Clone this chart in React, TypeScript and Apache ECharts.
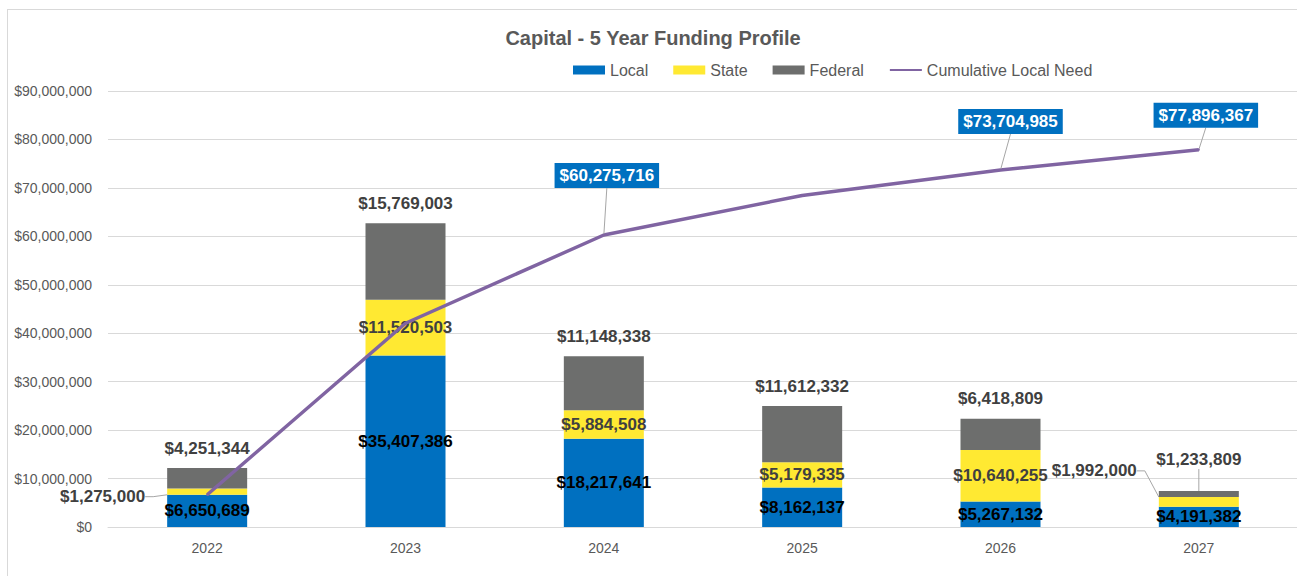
import React, { useEffect, useRef } from "react";
import * as echarts from "echarts";

const years = ["2022", "2023", "2024", "2025", "2026", "2027"];
const local = [6650689, 35407386, 18217641, 8162137, 5267132, 4191382];
const state = [1275000, 11520503, 5884508, 5179335, 10640255, 1992000];
const federal = [4251344, 15769003, 11148338, 11612332, 6418809, 1233809];
const cumulativeLocalNeed = [6650689, 42058075, 60275716, 68437853, 73704985, 77896367];
const cumulativeLabelYears = ["2024", "2026", "2027"];
const stateLabelsOutside = ["2022", "2027"];
const federalLabelsRaised = ["2027"];

const yMin = 0;
const yMax = 90000000;
const yInterval = 10000000;

// label nudges (styling only)
const cumulativeLabelShift: Record<string, [number, number]> = {
  "2024": [3, -41],
  "2026": [10, -30],
  "2027": [7, -16],
};
const stateLabelShift: Record<string, [number, number]> = {
  "2022": [0, 5],
  "2027": [0, -31],
};
const federalLabelShift: Record<string, [number, number]> = {
  "2027": [0, -12],
};

const money = (v: number) => "$" + Math.round(v).toLocaleString("en-US");

const COLORS = {
  local: "#0070C0",
  state: "#FFE932",
  federal: "#6D6E6D",
  line: "#8064A2",
  text: "#595959",
  label: "#404040",
  grid: "#D9D9D9",
  leader: "#A6A6A6",
};

const FONT = "'Liberation Sans', Arial, sans-serif";

export default function App() {
  const ref = useRef<HTMLDivElement>(null);

  useEffect(() => {
    if (!ref.current) return;
    const chart = echarts.init(ref.current, undefined, { renderer: "svg" });

    const barLabelBase = {
      show: true,
      fontFamily: FONT,
      fontWeight: "bold" as const,
      fontSize: 17,
      lineHeight: 20,
    };

    const option: any = {
      animation: false,
      textStyle: { fontFamily: FONT },
      title: {
        text: "Capital - 5 Year Funding Profile",
        left: "center",
        top: 13,
        textStyle: { fontFamily: FONT, fontSize: 20, fontWeight: "bold", color: COLORS.text },
      },
      legend: {
        left: 560,
        top: 47,
        itemWidth: 32,
        itemHeight: 9,
        itemGap: 25,
        textStyle: { fontFamily: FONT, fontSize: 16, color: COLORS.text },
        data: [
          { name: "Local", icon: "rect" },
          { name: "State", icon: "rect" },
          { name: "Federal", icon: "rect" },
          { name: "Cumulative Local Need", itemStyle: { opacity: 0 } },
        ],
      },
      grid: { left: 100, top: 81, width: 1192, height: 436, containLabel: false },
      xAxis: {
        type: "category",
        data: years,
        axisLine: { show: true, lineStyle: { color: COLORS.grid, width: 1 } },
        axisTick: { show: false },
        axisLabel: { color: COLORS.text, fontSize: 14, fontFamily: FONT, margin: 14 },
      },
      yAxis: {
        type: "value",
        min: yMin,
        max: yMax,
        interval: yInterval,
        axisLine: { show: false },
        axisTick: { show: false },
        splitLine: { lineStyle: { color: COLORS.grid, width: 1 } },
        axisLabel: {
          color: COLORS.text,
          fontSize: 14,
          fontFamily: FONT,
          margin: 16,
          formatter: (v: number) => money(v),
        },
      },
      series: [
        {
          name: "Local",
          type: "bar",
          stack: "total",
          barWidth: 80,
          itemStyle: { color: COLORS.local },
          label: { ...barLabelBase, position: "inside", color: "#000000", formatter: (p: any) => money(p.value) },
          data: local,
        },
        {
          name: "State",
          type: "bar",
          stack: "total",
          barWidth: 80,
          itemStyle: { color: COLORS.state },
          label: { ...barLabelBase, position: "inside", color: COLORS.label, formatter: (p: any) => money(p.value) },
          labelLayout: (p: any) => {
            const s = stateLabelShift[years[p.dataIndex]];
            return s ? { dx: s[0], dy: s[1] } : {};
          },
          data: state.map((v, i) =>
            stateLabelsOutside.includes(years[i])
              ? {
                  value: v,
                  label: { position: "left", distance: 22 },
                  labelLine: { show: true, length2: 8, lineStyle: { color: COLORS.leader, width: 1 } },
                }
              : v
          ),
        },
        {
          name: "Federal",
          type: "bar",
          stack: "total",
          barWidth: 80,
          itemStyle: { color: COLORS.federal },
          label: { ...barLabelBase, position: "top", distance: 10, color: COLORS.label, formatter: (p: any) => money(p.value) },
          labelLayout: (p: any) => {
            const s = federalLabelShift[years[p.dataIndex]];
            return s ? { dx: s[0], dy: s[1] } : {};
          },
          data: federal.map((v, i) =>
            federalLabelsRaised.includes(years[i])
              ? { value: v, labelLine: { show: true, lineStyle: { color: COLORS.leader, width: 1 } } }
              : v
          ),
        },
        {
          name: "Cumulative Local Need",
          type: "line",
          symbol: "circle",
          symbolSize: 2,
          showSymbol: true,
          z: 5,
          itemStyle: { color: COLORS.line },
          lineStyle: { color: COLORS.line, width: 3.5 },
          label: {
            show: false,
            position: "top",
            distance: 5,
            fontFamily: FONT,
            fontWeight: "bold",
            fontSize: 17,
            lineHeight: 18,
            color: "#FFFFFF",
            backgroundColor: COLORS.local,
            padding: [4, 5, 3, 5],
            formatter: (p: any) => money(p.value),
          },
          labelLayout: (p: any) => {
            const s = cumulativeLabelShift[years[p.dataIndex]];
            return s ? { dx: s[0], dy: s[1] } : {};
          },
          data: cumulativeLocalNeed.map((v, i) =>
            cumulativeLabelYears.includes(years[i])
              ? {
                  value: v,
                  label: { show: true },
                  labelLine: { show: true, lineStyle: { color: COLORS.leader, width: 1 } },
                }
              : v
          ),
        },
      ],
    };

    chart.setOption(option);
    return () => chart.dispose();
  }, []);

  return (
    <div
      style={{
        position: "fixed",
        left: 7,
        top: 9,
        width: 1290,
        height: 567,
        borderLeft: "1px solid #D9D9D9",
        borderTop: "1px solid #D9D9D9",
        overflow: "hidden",
        background: "#FFFFFF",
      }}
    >
      <div ref={ref} style={{ width: 1290, height: 567 }} />
    </div>
  );
}
